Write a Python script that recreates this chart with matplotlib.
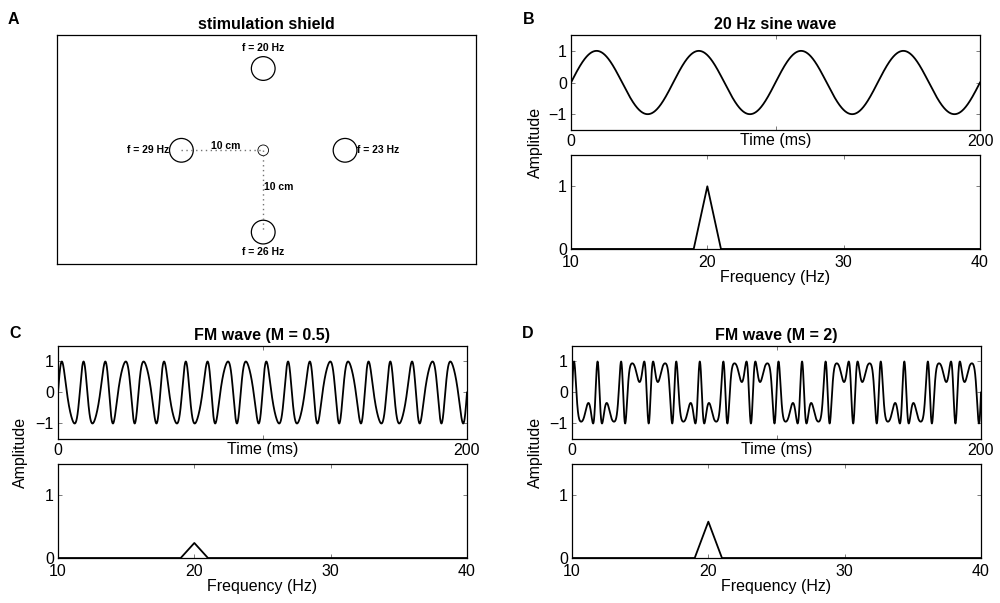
import numpy as np
import matplotlib
matplotlib.use("Agg")
import matplotlib.pyplot as plt
from matplotlib.patches import Circle

plt.rcParams['font.family'] = ['Liberation Sans', 'DejaVu Sans']
plt.rcParams['font.size'] = 11.5

# stimulation shield layout (cm, relative to the centre)
stim_x = [0, -10, 10, 0]
stim_y = [10, 0, 0, -10]
stim_freq = [20, 29, 23, 26]

# signals
sine_freq = 20          # Hz
carrier_freq = 100      # Hz
mod_freq = 80           # Hz
mod_index = [0.5, 2]
duration_ms = 200

# amplitude spectra (10-40 Hz)
spec_freq = [10, 19, 20, 21, 40]
spec_sine = [0, 0, 1.0, 0, 0]
spec_fm = [[0, 0, 0.24, 0, 0],
           [0, 0, 0.58, 0, 0]]

t = np.linspace(0, duration_ms, 4001)
ts = t / 1000.0
sine_wave = np.sin(2 * np.pi * sine_freq * ts)
fm_waves = [np.sin(2 * np.pi * carrier_freq * ts + m * np.sin(2 * np.pi * mod_freq * ts))
            for m in mod_index]

fig = plt.figure(figsize=(10, 6.03), dpi=100)


def style(ax):
    ax.tick_params(direction='in', length=3, top=True, right=True, width=0.6,
                   color='0.4', pad=3)
    for s in ax.spines.values():
        s.set_linewidth(0.9)


def time_axes(rect, y, title):
    ax = fig.add_axes(rect)
    ax.plot(t, y, color='black', lw=1.3)
    ax.set_xlim(0, duration_ms)
    ax.set_ylim(-1.5, 1.5)
    ax.set_xticks([0, 100, 200])
    ax.set_xticklabels(['0', '', '200'])
    ax.set_yticks([-1, 0, 1])
    ax.set_yticklabels(['\u22121', '0', '1'])
    ax.set_xlabel('Time (ms)')
    ax.xaxis.set_label_coords(0.5, -0.035)
    ax.xaxis.label.set_va('top')
    ax.set_title(title, fontweight='bold', fontsize=11.5, pad=4)
    style(ax)
    return ax


def spec_axes(rect, amp):
    ax = fig.add_axes(rect)
    ax.plot(spec_freq, amp, color='black', lw=1.3)
    ax.set_xlim(10, 40)
    ax.set_ylim(0, 1.5)
    ax.set_xticks([10, 20, 30, 40])
    ax.set_yticks([0, 1])
    ax.set_xlabel('Frequency (Hz)', labelpad=0)
    style(ax)
    ax.tick_params(axis='x', pad=4.5)
    return ax


# panel A
axA = fig.add_axes([0.057, 0.5622, 0.419, 0.3798])
axA.set_xlim(-25.2, 26)
axA.set_ylim(-13.9, 14.1)
axA.set_xticks([])
axA.set_yticks([])
for s in axA.spines.values():
    s.set_linewidth(0.9)
axA.set_title('stimulation shield', fontweight='bold', fontsize=11.5, pad=4)
axA.plot([stim_x[1], 0], [0, 0], ls=(0, (1, 2.5)), color='0.45', lw=1)
axA.plot([0, 0], [0, stim_y[3]], ls=(0, (1, 2.5)), color='0.45', lw=1)
for x, y in zip(stim_x, stim_y):
    axA.add_patch(Circle((x, y), 1.45, fill=False, lw=0.9, color='black'))
axA.add_patch(Circle((0, 0), 0.65, fill=False, lw=0.6, color='black'))
fs = 7.5
axA.text(stim_x[0], stim_y[0] + 2.5, f'f = {stim_freq[0]} Hz', ha='center', va='center',
         fontsize=fs, fontweight='bold')
axA.text(stim_x[1] - 1.5, stim_y[1], f'f = {stim_freq[1]} Hz', ha='right', va='center',
         fontsize=fs, fontweight='bold')
axA.text(stim_x[2] + 1.5, stim_y[2], f'f = {stim_freq[2]} Hz', ha='left', va='center',
         fontsize=fs, fontweight='bold')
axA.text(stim_x[3], stim_y[3] - 2.4, f'f = {stim_freq[3]} Hz', ha='center', va='center',
         fontsize=fs, fontweight='bold')
axA.text(-4.6, 0.5, '10 cm', ha='center', va='center', fontsize=fs, fontweight='bold')
axA.text(0.1, -4.5, '10 cm', ha='left', va='center', fontsize=fs, fontweight='bold')

# panel B
time_axes([0.571, 0.7844, 0.409, 0.1575], sine_wave, '20 Hz sine wave')
spec_axes([0.571, 0.5871, 0.409, 0.1559], spec_sine)

# panels C and D
titles = ['FM wave (M = 0.5)', 'FM wave (M = 2)']
lefts = [0.058, 0.572]
for i in range(2):
    time_axes([lefts[i], 0.2720, 0.409, 0.1542], fm_waves[i], titles[i])
    spec_axes([lefts[i], 0.0746, 0.409, 0.1559], spec_fm[i])

# shared y labels
for x, y in [(0.535, 1 - 142 / 603), (0.020, 1 - 452 / 603), (0.535, 1 - 452 / 603)]:
    fig.text(x, y, 'Amplitude', rotation=90, ha='center', va='center', fontsize=11.5)

# panel letters
for lab, x, y in [('A', 13, 20), ('B', 529, 20), ('C', 15, 333), ('D', 528, 333)]:
    fig.text(x / 1000, 1 - y / 603, lab, ha='center', va='center', fontsize=11.5,
             fontweight='bold')

fig.savefig('out.png', dpi=100)
